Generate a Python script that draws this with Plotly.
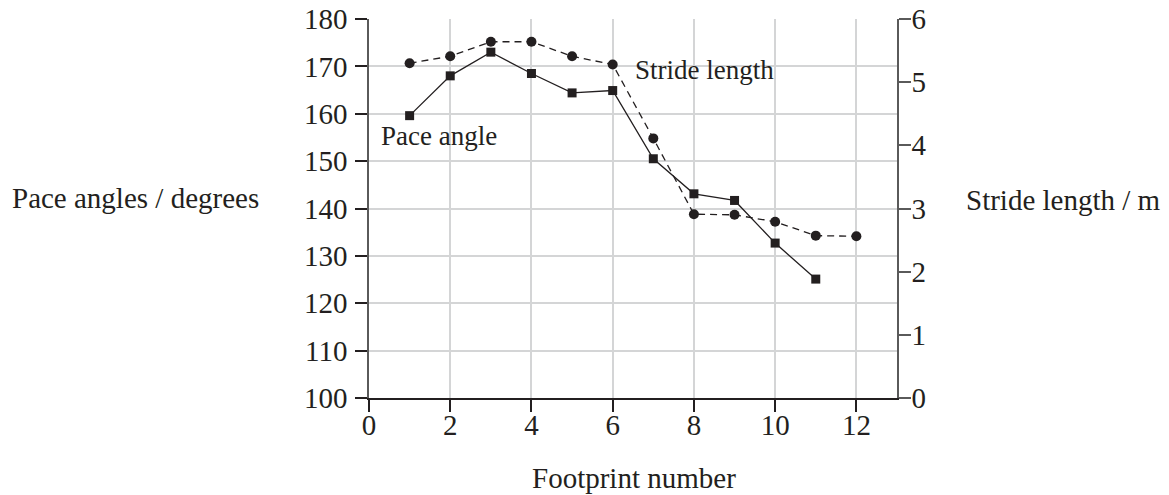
import plotly.graph_objects as go

footprints_pace = [1, 2, 3, 4, 5, 6, 7, 8, 9, 10, 11]
pace_angle = [159.6, 168.0, 173.0, 168.5, 164.4, 164.9, 150.5, 143.1, 141.7, 132.7, 125.1]

footprints_stride = [1, 2, 3, 4, 5, 6, 7, 8, 9, 10, 11, 12]
stride_length = [5.30, 5.41, 5.64, 5.64, 5.41, 5.28, 4.11, 2.91, 2.90, 2.79, 2.57, 2.56]

x_ticks = [0, 2, 4, 6, 8, 10, 12]
left_ticks = [100, 110, 120, 130, 140, 150, 160, 170, 180]
right_ticks = [0, 1, 2, 3, 4, 5, 6]

FONT = "Liberation Serif, Times New Roman, serif"
TXT = "#231f20"
AX = "#5a5a5a"
GRID = "#d4d5d6"

fig = go.Figure()
fig.add_trace(go.Scatter(
    x=footprints_stride, y=stride_length, yaxis="y2", mode="lines+markers",
    line=dict(color=TXT, width=1.3, dash="7px,5px"),
    marker=dict(symbol="circle", size=10, color=TXT),
    showlegend=False, cliponaxis=False))
fig.add_trace(go.Scatter(
    x=footprints_pace, y=pace_angle, mode="lines+markers",
    line=dict(color=TXT, width=1.3),
    marker=dict(symbol="square", size=9, color=TXT),
    showlegend=False, cliponaxis=False))

OFF = 8  # default page body margin
W, H = 1169 - OFF, 495 - OFF
L, R, T, B = 369.4 - OFF, 896.7 - OFF, 19.3 - OFF, 398.5 - OFF

fig.update_layout(
    template="none",
    width=W, height=H, autosize=False,
    margin=dict(l=L, r=W - R, t=T, b=H - B, pad=0, autoexpand=False),
    plot_bgcolor="white", paper_bgcolor="white",
    font=dict(family=FONT, size=29, color=TXT),
    xaxis=dict(range=[0, 13], tickvals=x_ticks, showgrid=True, gridcolor=GRID, gridwidth=1.5,
               zeroline=False, showline=True, linecolor=TXT, linewidth=1.5, automargin=False,
               ticks="outside", ticklen=12, tickcolor=TXT, tickwidth=1.5,
               ticklabelstandoff=-12, ticklabeloverflow="allow",
               tickfont=dict(family=FONT, size=29, color=TXT)),
    yaxis=dict(range=[100, 180], tickvals=left_ticks, showgrid=True, gridcolor=GRID, gridwidth=1.5,
               zeroline=False, showline=True, linecolor=AX, linewidth=1.5, automargin=False,
               ticks="outside", ticklen=12, tickcolor=TXT, tickwidth=1.5,
               ticklabelstandoff=2, ticklabeloverflow="allow",
               tickfont=dict(family=FONT, size=29, color=TXT)),
    yaxis2=dict(range=[0, 6], tickvals=right_ticks, overlaying="y", side="right",
                showgrid=False, zeroline=False, showline=True, linecolor=AX, linewidth=1.5,
                automargin=False,
                ticks="outside", ticklen=12, tickcolor=AX, tickwidth=1.5,
                ticklabelstandoff=-5, ticklabeloverflow="allow",
                tickfont=dict(family=FONT, size=29, color=TXT)),
)

PW, PH = R - L, B - T
def px(xp):
    return (xp - OFF - L) / PW
def py(yp):
    return (B - (yp - OFF)) / PH

annots = [
    dict(text="Pace angle", x=px(380), y=py(136.5), xanchor="left", size=27),
    dict(text="Stride length", x=px(634), y=py(70), xanchor="left", size=27),
    dict(text="Pace angles / degrees", x=px(11.7), y=py(198.4), xanchor="left", size=29),
    dict(text="Stride length / m", x=px(965), y=py(200), xanchor="left", size=29),
    dict(text="Footprint number", x=px(634), y=py(478.7), xanchor="center", size=29),
]
for a in annots:
    fig.add_annotation(text=a["text"], x=a["x"], y=a["y"], xref="paper", yref="paper",
                       xanchor=a["xanchor"], yanchor="middle", showarrow=False,
                       borderpad=0, font=dict(family=FONT, size=a["size"], color=TXT))

fig.write_html("out.html")
